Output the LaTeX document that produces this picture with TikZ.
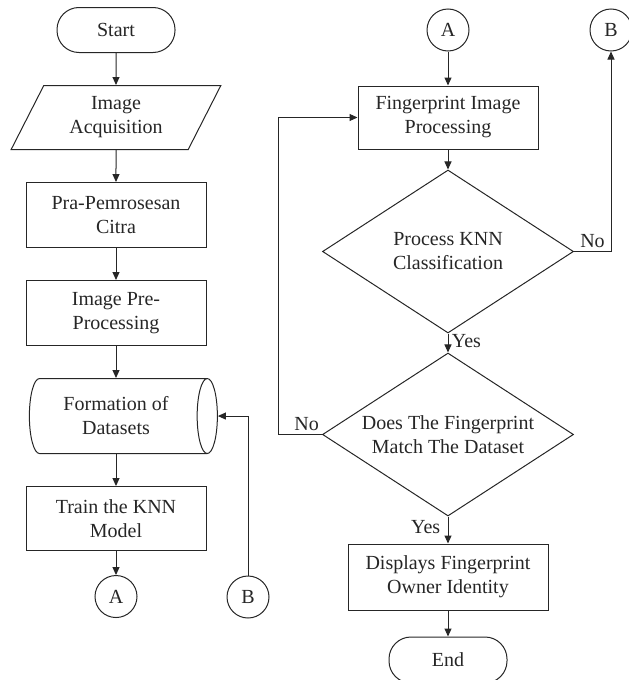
\documentclass[tikz,border=0pt]{standalone}
\usepackage{fontspec}
\setmainfont{Liberation Serif}
\usepackage{xcolor}
\usepackage{tikz}
\usetikzlibrary{positioning,shapes.geometric,arrows.meta}

\begin{document}
\begin{tikzpicture}[x=1pt, y=1pt, node distance=32pt,
  font=\fontsize{20}{24}\selectfont, line width=1pt, draw=black!85, text=black!85,
  >={Triangle[length=8pt,width=7pt]},
  terminal/.style={rectangle, rounded corners=22pt, minimum width=118pt, minimum height=45pt, text centered, draw},
  process/.style={rectangle, minimum width=180pt, minimum height=65pt, align=center, draw},
  io/.style={trapezium, trapezium left angle=63, trapezium right angle=117, trapezium stretches=true, minimum width=210pt, minimum height=64pt, align=center, inner sep=0pt, draw},
  store/.style={cylinder, aspect=0.45, minimum width=75pt, minimum height=188pt, align=center, draw},
  decision/.style={diamond, aspect=1.54, minimum width=251pt, minimum height=163pt, inner sep=0pt, align=center, draw},
  connector/.style={circle, minimum size=42pt, inner sep=0pt, draw}]
\useasboundingbox (0,0) rectangle (629,-680);

% left column
\node (start) [terminal] at (116,-30) {Start};
\node (acq) [io, below=of start] {Image\\Acquisition};
\node (pra) [process, below=of acq] {Pra-Pemrosesan\\Citra};
\node (imgpre) [process, below=of pra] {Image Pre-\\Processing};
\node (form) [store, below=of imgpre] {Formation of\\Datasets};
\node (train) [process, below=of form, minimum height=64pt] {Train the KNN\\Model};
\node (conA) [connector, below=24pt of train] {A};
\node (conB) [connector] at (248,-597) {B};

% right column
\node (conA2) [connector] at (448,-30) {A};
\node (conB2) [connector] at (611,-30) {B};
\node (fip) [process, below=34pt of conA2, minimum height=63pt] {Fingerprint Image\\Processing};
\node (knn) [decision, below=20pt of fip] {Process KNN\\Classification};
\node (match) [decision, below=19pt of knn] {Does The Fingerprint\\Match The Dataset};
\node (disp) [process, below=27pt of match, minimum width=200pt, minimum height=66pt] {Displays Fingerprint\\Owner Identity};
\node (end) [terminal, below=26pt of disp, minimum height=46pt] {End};

\draw[->] (start) -- (acq);
\draw[->] (acq) -- (pra);
\draw[->] (pra) -- (imgpre);
\draw[->] (imgpre.south) -- (form.north);
\draw[->] (form.south) -- (train.north);
\draw[->] (train) -- (conA);
\draw[->] (conB) |- (form.east);

\draw[->] (conA2) -- (fip);
\draw[->] (fip) -- (knn);
\draw[->] (knn) -- node[right, pos=0.4] {Yes} (match);
\draw[->] (knn.east) -| node[pos=0.25, above] {No} (conB2);
\draw[->] (match.west) -- node[above, pos=0.35] {No} ++(-44,0) |- (fip.west);
\draw[->] (match) -- node[left, pos=0.4, xshift=-4pt] {Yes} (disp);
\draw[->] (disp) -- (end);

\end{tikzpicture}
\end{document}
